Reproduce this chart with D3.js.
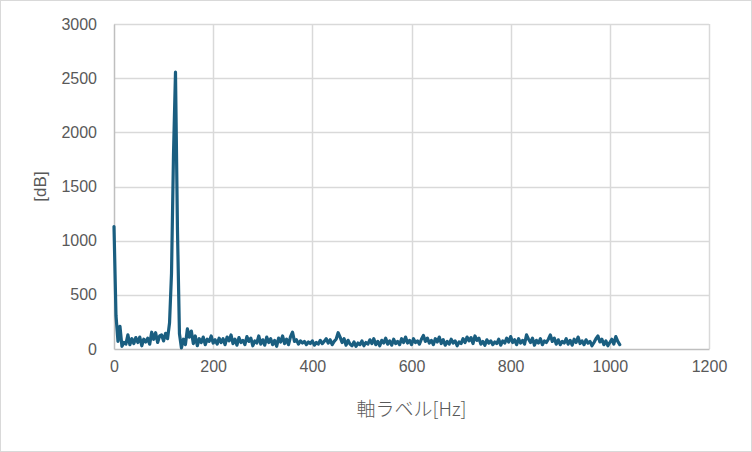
<!DOCTYPE html>
<html><head><meta charset="utf-8">
<script src="https://cdn.jsdelivr.net/npm/d3@7"></script>
<style>body{margin:0;background:#fff}svg{display:block}</style>
</head><body>
<script>
// frequency resolution of the spectrum (Hz per sample)
const freqStep = 4;
// spectrum magnitudes [dB], one per frequency sample starting at 0 Hz
const dbValues = [
1130,310,70,210,25,60,45,130,40,95,50,105,60,110,30,90,65,100,45,155,90,150,60,120,130,
75,145,95,240,700,1800,2555,1100,140,10,90,40,185,110,165,50,120,30,95,60,110,40,90,70,120,
55,85,45,100,60,95,40,110,75,130,50,90,35,105,60,80,40,115,70,100,30,75,55,120,45,
85,35,110,60,95,40,80,25,100,65,120,50,90,40,115,155,70,85,45,75,55,70,40,65,50,
75,35,60,45,80,50,70,95,55,85,40,70,90,150,110,60,95,35,80,45,30,65,25,55,40,
75,30,60,45,85,50,95,40,70,30,80,55,100,45,75,35,90,50,70,40,95,60,110,55,80,
40,95,60,75,45,90,125,70,100,55,80,40,95,65,110,50,85,35,70,45,90,55,75,30,65,
50,95,60,110,75,105,50,120,80,100,45,70,35,85,55,75,40,65,50,90,35,75,55,100,65,
115,60,85,40,95,55,80,45,130,90,60,100,35,80,55,95,40,75,60,90,130,70,100,45,85,
40,70,55,95,45,80,35,90,60,110,50,75,40,85,55,70,30,60,95,120,65,90,40,75,30,
60,90,45,115,70,40
];
const xTicks = [0,200,400,600,800,1000,1200];
const yTicks = [0,500,1000,1500,2000,2500,3000];
const xTitle = "軸ラベル[Hz]";
const yTitle = "[dB]";

const W = 752, H = 452;
const m = {left:114, right:W-709, top:24, bottom:H-349};
const svg = d3.select("body").append("svg").attr("width",W).attr("height",H);
svg.append("rect").attr("x",0.5).attr("y",0.5).attr("width",W-1).attr("height",H-1)
  .attr("fill","#fff").attr("stroke","#d9d9d9");

const x = d3.scaleLinear().domain([0,1200]).range([m.left, W-m.right]);
const y = d3.scaleLinear().domain([0,3000]).range([H-m.bottom, m.top]);

const font = "'Liberation Sans', Arial, sans-serif";
// gridlines
svg.append("g").selectAll("line").data(yTicks.filter(d=>d>0)).join("line")
  .attr("x1",x(0)).attr("x2",x(1200)).attr("y1",d=>Math.round(y(d))+0.5).attr("y2",d=>Math.round(y(d))+0.5)
  .attr("stroke","#d9d9d9").attr("stroke-width",1.5);
svg.append("g").selectAll("line").data(xTicks.filter(d=>d>0)).join("line")
  .attr("y1",y(0)).attr("y2",y(3000)).attr("x1",d=>Math.round(x(d))+0.5).attr("x2",d=>Math.round(x(d))+0.5)
  .attr("stroke","#d9d9d9").attr("stroke-width",1.5);

// axes
const fmt = d3.format("d");
const xAxis = svg.append("g").attr("transform",`translate(0,${y(0)})`)
  .call(d3.axisBottom(x).tickValues(xTicks).tickFormat(fmt).tickSize(0).tickPadding(12));
const yAxis = svg.append("g").attr("transform",`translate(${x(0)},0)`)
  .call(d3.axisLeft(y).tickValues(yTicks).tickFormat(fmt).tickSize(0).tickPadding(17));
[xAxis,yAxis].forEach(g=>{
  g.select(".domain").attr("stroke","#bfbfbf").attr("stroke-width",1.5);
  g.selectAll("text").attr("fill","#595959").style("font-family",font).style("font-size","16px");
});

// line
const line = d3.line().x((d,i)=>x(i*freqStep)).y(d=>y(d));
svg.append("path").datum(dbValues).attr("d",line).attr("fill","none")
  .attr("stroke","#1a5e80").attr("stroke-width",3.2).attr("stroke-linejoin","round").attr("stroke-linecap","round");

// titles
svg.append("text").attr("x",(x(0)+x(1200))/2).attr("y",416).attr("text-anchor","middle")
  .attr("fill","#595959").style("font-family","'Noto Sans CJK JP', sans-serif").style("font-size","19px").style("font-weight","300").text(xTitle);
svg.append("text").attr("transform",`translate(46,${(y(0)+y(3000))/2}) rotate(-90)`).attr("text-anchor","middle")
  .attr("fill","#595959").style("font-family",font).style("font-size","17px").text(yTitle);
</script>
</body></html>
